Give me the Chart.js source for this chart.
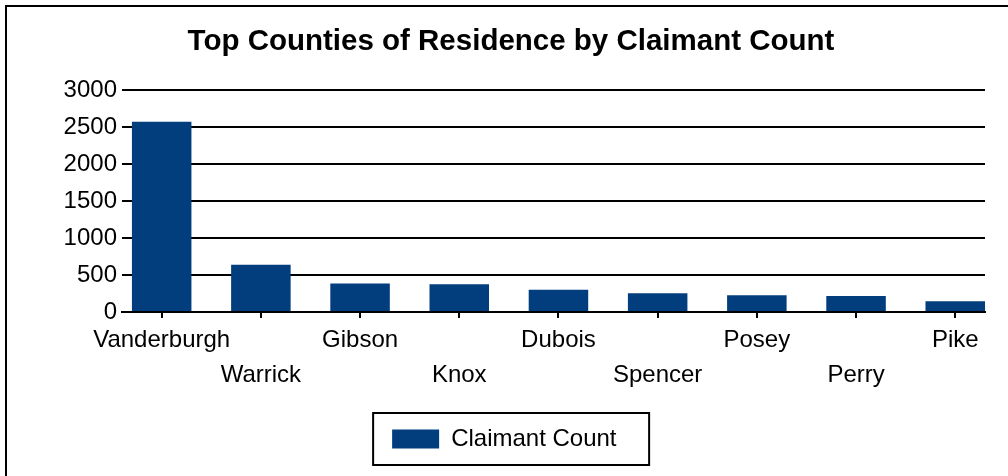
<!DOCTYPE html>
<html>
<head>
<meta charset="utf-8">
<script src="https://cdn.jsdelivr.net/npm/chart.js@4"></script>
<style>
  html, body { margin: 0; padding: 0; background: #fff; overflow: hidden; }
  #frame { position: absolute; left: 5px; top: 5px; width: 2000px; height: 2000px;
           border-left: 2px solid #000; border-top: 2px solid #000; }
  #wrap { position: absolute; left: 0; top: 0; width: 1008px; height: 476px; }
</style>
</head>
<body>
<div id="frame"></div>
<div id="wrap"><canvas id="countyChart"></canvas></div>
<script>
// Top counties chart data
const counties = ['Vanderburgh', 'Warrick', 'Gibson', 'Knox', 'Dubois', 'Spencer', 'Posey', 'Perry', 'Pike'];
const claimantCounts = [2570, 640, 385, 375, 300, 255, 225, 215, 145];
const yTicks = [0, 500, 1000, 1500, 2000, 2500, 3000];

const fontFamily = "'Liberation Sans', Arial, sans-serif";
const barColor = '#023e7d';

// Draws the box round the legend
const legendFrame = {
    id: 'legendFrame',
    afterDraw(chart) {
        const hb = chart.legend.legendHitBoxes[0];
        if (!hb) return;
        const ctx = chart.ctx;
        const cy = hb.top + hb.height / 2;
        ctx.save();
        ctx.strokeStyle = '#000';
        ctx.lineWidth = 2;
        ctx.strokeRect(hb.left - 19, cy - 26, 276, 52);
        ctx.restore();
    }
};

const ctx = document.getElementById('countyChart');
new Chart(ctx, {
    type: 'bar',
    data: {
        datasets: [{
            label: 'Claimant Count',
            data: claimantCounts.map((v, i) => ({ x: i, y: v })),
            backgroundColor: barColor,
            borderWidth: 0,
            barPercentage: 0.6,
            categoryPercentage: 1
        }]
    },
    options: {
        responsive: true,
        maintainAspectRatio: false,
        animation: false,
        layout: { padding: { top: 10, left: 37, right: 23, bottom: 15 } },
        plugins: {
            title: {
                display: true,
                text: 'Top Counties of Residence by Claimant Count',
                color: '#000',
                font: { family: fontFamily, size: 29.5, weight: 'bold' },
                padding: { top: 14, bottom: 30.6 }
            },
            legend: {
                position: 'bottom',
                labels: {
                    color: '#000',
                    font: { family: fontFamily, size: 24 },
                    boxWidth: 47,
                    boxHeight: 19,
                    padding: 19,
                    generateLabels(chart) {
                        const items = Chart.defaults.plugins.legend.labels.generateLabels(chart);
                        items.forEach(it => { it.text = it.text + '\u00a0\u00a0'; it.lineWidth = 0; });
                        return items;
                    }
                }
            },
            tooltip: { enabled: false }
        },
        scales: {
            x: {
                type: 'linear',
                offset: false,
                min: -0.4,
                max: 8.3,
                afterBuildTicks: scale => { scale.ticks = counties.map((c, i) => ({ value: i })); },
                afterFit: scale => { scale.height = 96; },
                grid: { offset: false, drawOnChartArea: false, drawTicks: true, tickLength: 6, color: '#000', lineWidth: 2 },
                border: { display: true, color: '#000', width: 2 },
                ticks: {
                    autoSkip: false,
                    maxRotation: 0,
                    minRotation: 0,
                    padding: 5,
                    color: '#000',
                    font: { family: fontFamily, size: 24, lineHeight: 1.45 },
                    callback: value => {
                        const name = counties[value];
                        return value % 2 === 1 ? ['', name] : name;
                    }
                }
            },
            y: {
                min: 0,
                max: 3000,
                afterBuildTicks: scale => { scale.ticks = yTicks.map(v => ({ value: v })); },
                afterFit: scale => { scale.width = 85; },
                grid: { color: '#000', lineWidth: 2, drawTicks: false },
                border: { display: false },
                ticks: {
                    padding: 5,
                    color: '#000',
                    font: { family: fontFamily, size: 24 },
                    callback: value => String(value)
                }
            }
        }
    },
    plugins: [legendFrame]
});
</script>
</body>
</html>
